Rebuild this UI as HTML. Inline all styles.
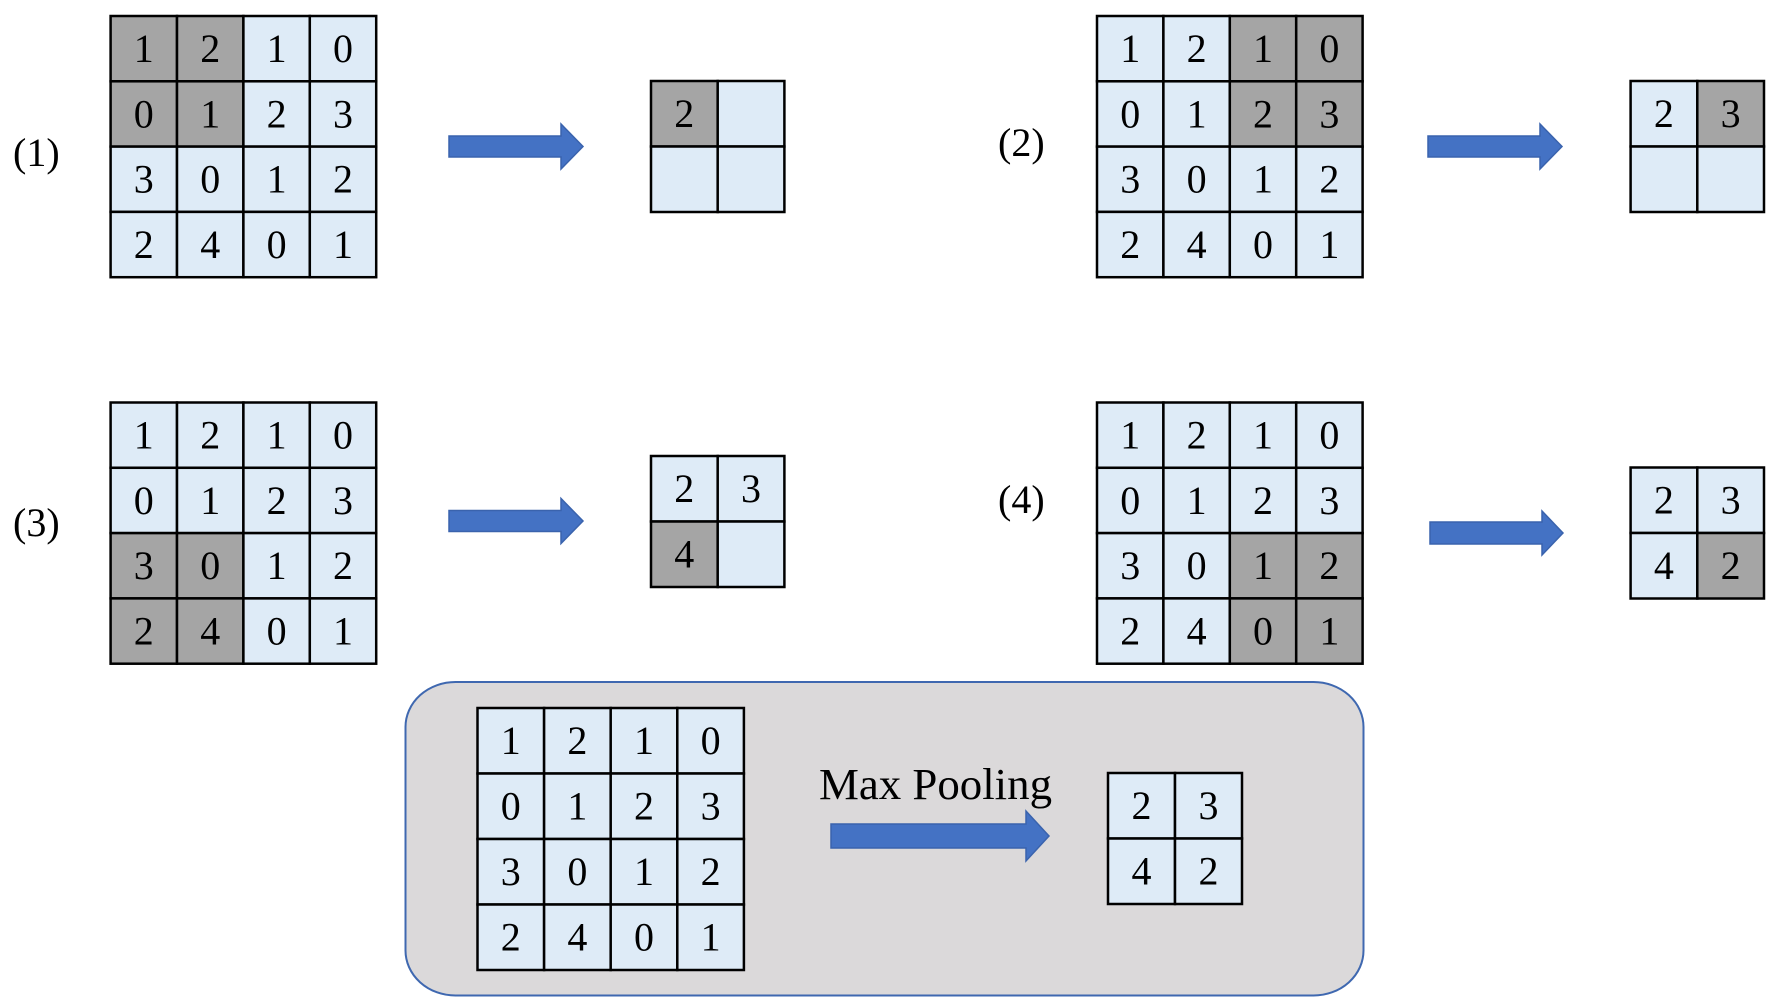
<!DOCTYPE html>
<html><head><meta charset="utf-8"><style>
html,body{margin:0;padding:0;background:#fff;}
svg{display:block;}
text{font-family:"Liberation Serif",serif;fill:#000;}
.d{font-size:40px;text-anchor:middle;}
.l{font-size:40px;}
.c{fill:#deebf7;stroke:#000;stroke-width:2.5;}
.g{fill:#a5a5a5;stroke:#000;stroke-width:2.5;}
.a{fill:#4472c4;stroke:#3a63ad;stroke-width:1.5;}
</style></head><body>
<svg width="1788" height="1008" viewBox="0 0 1788 1008" xmlns="http://www.w3.org/2000/svg">
<defs>
<g id="cells">
</g>
</defs>

<!-- labels -->
<text class="l" x="13" y="166">(1)</text>
<text class="l" x="998" y="156">(2)</text>
<text class="l" x="13" y="536">(3)</text>
<text class="l" x="998" y="513">(4)</text>

<!-- Grid 1 -->
<g transform="translate(110.6,16)">
<rect class="g" x="0" y="0" width="66.4" height="65.3"/><rect class="g" x="66.4" y="0" width="66.4" height="65.3"/><rect class="c" x="132.8" y="0" width="66.4" height="65.3"/><rect class="c" x="199.2" y="0" width="66.4" height="65.3"/>
<rect class="g" x="0" y="65.3" width="66.4" height="65.3"/><rect class="g" x="66.4" y="65.3" width="66.4" height="65.3"/><rect class="c" x="132.8" y="65.3" width="66.4" height="65.3"/><rect class="c" x="199.2" y="65.3" width="66.4" height="65.3"/>
<rect class="c" x="0" y="130.6" width="66.4" height="65.3"/><rect class="c" x="66.4" y="130.6" width="66.4" height="65.3"/><rect class="c" x="132.8" y="130.6" width="66.4" height="65.3"/><rect class="c" x="199.2" y="130.6" width="66.4" height="65.3"/>
<rect class="c" x="0" y="195.9" width="66.4" height="65.3"/><rect class="c" x="66.4" y="195.9" width="66.4" height="65.3"/><rect class="c" x="132.8" y="195.9" width="66.4" height="65.3"/><rect class="c" x="199.2" y="195.9" width="66.4" height="65.3"/>
<text class="d" x="33.2" y="46">1</text><text class="d" x="99.6" y="46">2</text><text class="d" x="166" y="46">1</text><text class="d" x="232.4" y="46">0</text>
<text class="d" x="33.2" y="111.3">0</text><text class="d" x="99.6" y="111.3">1</text><text class="d" x="166" y="111.3">2</text><text class="d" x="232.4" y="111.3">3</text>
<text class="d" x="33.2" y="176.6">3</text><text class="d" x="99.6" y="176.6">0</text><text class="d" x="166" y="176.6">1</text><text class="d" x="232.4" y="176.6">2</text>
<text class="d" x="33.2" y="241.9">2</text><text class="d" x="99.6" y="241.9">4</text><text class="d" x="166" y="241.9">0</text><text class="d" x="232.4" y="241.9">1</text>
</g>

<!-- Grid 2 -->
<g transform="translate(1097,16)">
<rect class="c" x="0" y="0" width="66.4" height="65.3"/><rect class="c" x="66.4" y="0" width="66.4" height="65.3"/><rect class="g" x="132.8" y="0" width="66.4" height="65.3"/><rect class="g" x="199.2" y="0" width="66.4" height="65.3"/>
<rect class="c" x="0" y="65.3" width="66.4" height="65.3"/><rect class="c" x="66.4" y="65.3" width="66.4" height="65.3"/><rect class="g" x="132.8" y="65.3" width="66.4" height="65.3"/><rect class="g" x="199.2" y="65.3" width="66.4" height="65.3"/>
<rect class="c" x="0" y="130.6" width="66.4" height="65.3"/><rect class="c" x="66.4" y="130.6" width="66.4" height="65.3"/><rect class="c" x="132.8" y="130.6" width="66.4" height="65.3"/><rect class="c" x="199.2" y="130.6" width="66.4" height="65.3"/>
<rect class="c" x="0" y="195.9" width="66.4" height="65.3"/><rect class="c" x="66.4" y="195.9" width="66.4" height="65.3"/><rect class="c" x="132.8" y="195.9" width="66.4" height="65.3"/><rect class="c" x="199.2" y="195.9" width="66.4" height="65.3"/>
<text class="d" x="33.2" y="46">1</text><text class="d" x="99.6" y="46">2</text><text class="d" x="166" y="46">1</text><text class="d" x="232.4" y="46">0</text>
<text class="d" x="33.2" y="111.3">0</text><text class="d" x="99.6" y="111.3">1</text><text class="d" x="166" y="111.3">2</text><text class="d" x="232.4" y="111.3">3</text>
<text class="d" x="33.2" y="176.6">3</text><text class="d" x="99.6" y="176.6">0</text><text class="d" x="166" y="176.6">1</text><text class="d" x="232.4" y="176.6">2</text>
<text class="d" x="33.2" y="241.9">2</text><text class="d" x="99.6" y="241.9">4</text><text class="d" x="166" y="241.9">0</text><text class="d" x="232.4" y="241.9">1</text>
</g>

<!-- Grid 3 -->
<g transform="translate(110.6,402.5)">
<rect class="c" x="0" y="0" width="66.4" height="65.3"/><rect class="c" x="66.4" y="0" width="66.4" height="65.3"/><rect class="c" x="132.8" y="0" width="66.4" height="65.3"/><rect class="c" x="199.2" y="0" width="66.4" height="65.3"/>
<rect class="c" x="0" y="65.3" width="66.4" height="65.3"/><rect class="c" x="66.4" y="65.3" width="66.4" height="65.3"/><rect class="c" x="132.8" y="65.3" width="66.4" height="65.3"/><rect class="c" x="199.2" y="65.3" width="66.4" height="65.3"/>
<rect class="g" x="0" y="130.6" width="66.4" height="65.3"/><rect class="g" x="66.4" y="130.6" width="66.4" height="65.3"/><rect class="c" x="132.8" y="130.6" width="66.4" height="65.3"/><rect class="c" x="199.2" y="130.6" width="66.4" height="65.3"/>
<rect class="g" x="0" y="195.9" width="66.4" height="65.3"/><rect class="g" x="66.4" y="195.9" width="66.4" height="65.3"/><rect class="c" x="132.8" y="195.9" width="66.4" height="65.3"/><rect class="c" x="199.2" y="195.9" width="66.4" height="65.3"/>
<text class="d" x="33.2" y="46">1</text><text class="d" x="99.6" y="46">2</text><text class="d" x="166" y="46">1</text><text class="d" x="232.4" y="46">0</text>
<text class="d" x="33.2" y="111.3">0</text><text class="d" x="99.6" y="111.3">1</text><text class="d" x="166" y="111.3">2</text><text class="d" x="232.4" y="111.3">3</text>
<text class="d" x="33.2" y="176.6">3</text><text class="d" x="99.6" y="176.6">0</text><text class="d" x="166" y="176.6">1</text><text class="d" x="232.4" y="176.6">2</text>
<text class="d" x="33.2" y="241.9">2</text><text class="d" x="99.6" y="241.9">4</text><text class="d" x="166" y="241.9">0</text><text class="d" x="232.4" y="241.9">1</text>
</g>

<!-- Grid 4 -->
<g transform="translate(1097,402.5)">
<rect class="c" x="0" y="0" width="66.4" height="65.3"/><rect class="c" x="66.4" y="0" width="66.4" height="65.3"/><rect class="c" x="132.8" y="0" width="66.4" height="65.3"/><rect class="c" x="199.2" y="0" width="66.4" height="65.3"/>
<rect class="c" x="0" y="65.3" width="66.4" height="65.3"/><rect class="c" x="66.4" y="65.3" width="66.4" height="65.3"/><rect class="c" x="132.8" y="65.3" width="66.4" height="65.3"/><rect class="c" x="199.2" y="65.3" width="66.4" height="65.3"/>
<rect class="c" x="0" y="130.6" width="66.4" height="65.3"/><rect class="c" x="66.4" y="130.6" width="66.4" height="65.3"/><rect class="g" x="132.8" y="130.6" width="66.4" height="65.3"/><rect class="g" x="199.2" y="130.6" width="66.4" height="65.3"/>
<rect class="c" x="0" y="195.9" width="66.4" height="65.3"/><rect class="c" x="66.4" y="195.9" width="66.4" height="65.3"/><rect class="g" x="132.8" y="195.9" width="66.4" height="65.3"/><rect class="g" x="199.2" y="195.9" width="66.4" height="65.3"/>
<text class="d" x="33.2" y="46">1</text><text class="d" x="99.6" y="46">2</text><text class="d" x="166" y="46">1</text><text class="d" x="232.4" y="46">0</text>
<text class="d" x="33.2" y="111.3">0</text><text class="d" x="99.6" y="111.3">1</text><text class="d" x="166" y="111.3">2</text><text class="d" x="232.4" y="111.3">3</text>
<text class="d" x="33.2" y="176.6">3</text><text class="d" x="99.6" y="176.6">0</text><text class="d" x="166" y="176.6">1</text><text class="d" x="232.4" y="176.6">2</text>
<text class="d" x="33.2" y="241.9">2</text><text class="d" x="99.6" y="241.9">4</text><text class="d" x="166" y="241.9">0</text><text class="d" x="232.4" y="241.9">1</text>
</g>

<!-- Outputs -->
<g transform="translate(651,81)">
<rect class="g" x="0" y="0" width="66.7" height="65.5"/><rect class="c" x="66.7" y="0" width="66.7" height="65.5"/>
<rect class="c" x="0" y="65.5" width="66.7" height="65.5"/><rect class="c" x="66.7" y="65.5" width="66.7" height="65.5"/>
<text class="d" x="33.3" y="46">2</text>
</g>
<g transform="translate(1630.6,81)">
<rect class="c" x="0" y="0" width="66.7" height="65.5"/><rect class="g" x="66.7" y="0" width="66.7" height="65.5"/>
<rect class="c" x="0" y="65.5" width="66.7" height="65.5"/><rect class="c" x="66.7" y="65.5" width="66.7" height="65.5"/>
<text class="d" x="33.3" y="46">2</text><text class="d" x="100" y="46">3</text>
</g>
<g transform="translate(651,456)">
<rect class="c" x="0" y="0" width="66.7" height="65.5"/><rect class="c" x="66.7" y="0" width="66.7" height="65.5"/>
<rect class="g" x="0" y="65.5" width="66.7" height="65.5"/><rect class="c" x="66.7" y="65.5" width="66.7" height="65.5"/>
<text class="d" x="33.3" y="46">2</text><text class="d" x="100" y="46">3</text>
<text class="d" x="33.3" y="111.5">4</text>
</g>
<g transform="translate(1630.6,467.5)">
<rect class="c" x="0" y="0" width="66.7" height="65.5"/><rect class="c" x="66.7" y="0" width="66.7" height="65.5"/>
<rect class="c" x="0" y="65.5" width="66.7" height="65.5"/><rect class="g" x="66.7" y="65.5" width="66.7" height="65.5"/>
<text class="d" x="33.3" y="46">2</text><text class="d" x="100" y="46">3</text>
<text class="d" x="33.3" y="111.5">4</text><text class="d" x="100" y="111.5">2</text>
</g>

<!-- Arrows -->
<polygon class="a" points="449,136 561,136 561,124 583,146.5 561,169 561,157 449,157"/>
<polygon class="a" points="1428,136 1540,136 1540,124 1562,146.5 1540,169 1540,157 1428,157"/>
<polygon class="a" points="449,510.5 561,510.5 561,498.5 583,521 561,543.5 561,531.5 449,531.5"/>
<polygon class="a" points="1430,522 1542,522 1542,511 1563,533 1542,555 1542,544 1430,544"/>

<!-- Bottom box -->
<rect x="405.5" y="682" width="958" height="313.5" rx="50" ry="45" fill="#dbd9da" stroke="#3f68b0" stroke-width="2"/>
<g transform="translate(477.5,708)">
<rect class="c" x="0" y="0" width="66.6" height="65.5"/><rect class="c" x="66.6" y="0" width="66.6" height="65.5"/><rect class="c" x="133.2" y="0" width="66.6" height="65.5"/><rect class="c" x="199.8" y="0" width="66.6" height="65.5"/>
<rect class="c" x="0" y="65.5" width="66.6" height="65.5"/><rect class="c" x="66.6" y="65.5" width="66.6" height="65.5"/><rect class="c" x="133.2" y="65.5" width="66.6" height="65.5"/><rect class="c" x="199.8" y="65.5" width="66.6" height="65.5"/>
<rect class="c" x="0" y="131" width="66.6" height="65.5"/><rect class="c" x="66.6" y="131" width="66.6" height="65.5"/><rect class="c" x="133.2" y="131" width="66.6" height="65.5"/><rect class="c" x="199.8" y="131" width="66.6" height="65.5"/>
<rect class="c" x="0" y="196.5" width="66.6" height="65.5"/><rect class="c" x="66.6" y="196.5" width="66.6" height="65.5"/><rect class="c" x="133.2" y="196.5" width="66.6" height="65.5"/><rect class="c" x="199.8" y="196.5" width="66.6" height="65.5"/>
<text class="d" x="33.3" y="46">1</text><text class="d" x="99.9" y="46">2</text><text class="d" x="166.5" y="46">1</text><text class="d" x="233.1" y="46">0</text>
<text class="d" x="33.3" y="111.5">0</text><text class="d" x="99.9" y="111.5">1</text><text class="d" x="166.5" y="111.5">2</text><text class="d" x="233.1" y="111.5">3</text>
<text class="d" x="33.3" y="177">3</text><text class="d" x="99.9" y="177">0</text><text class="d" x="166.5" y="177">1</text><text class="d" x="233.1" y="177">2</text>
<text class="d" x="33.3" y="242.5">2</text><text class="d" x="99.9" y="242.5">4</text><text class="d" x="166.5" y="242.5">0</text><text class="d" x="233.1" y="242.5">1</text>
</g>
<g transform="translate(1108,773)">
<rect class="c" x="0" y="0" width="67" height="65.5"/><rect class="c" x="67" y="0" width="67" height="65.5"/>
<rect class="c" x="0" y="65.5" width="67" height="65.5"/><rect class="c" x="67" y="65.5" width="67" height="65.5"/>
<text class="d" x="33.5" y="46">2</text><text class="d" x="100.5" y="46">3</text>
<text class="d" x="33.5" y="111.5">4</text><text class="d" x="100.5" y="111.5">2</text>
</g>
<text x="819" y="799" font-size="44" textLength="233" lengthAdjust="spacingAndGlyphs">Max Pooling</text>
<polygon class="a" points="831,824 1026,824 1026,811 1049,836 1026,861 1026,848 831,848"/>
</svg>
</body></html>
